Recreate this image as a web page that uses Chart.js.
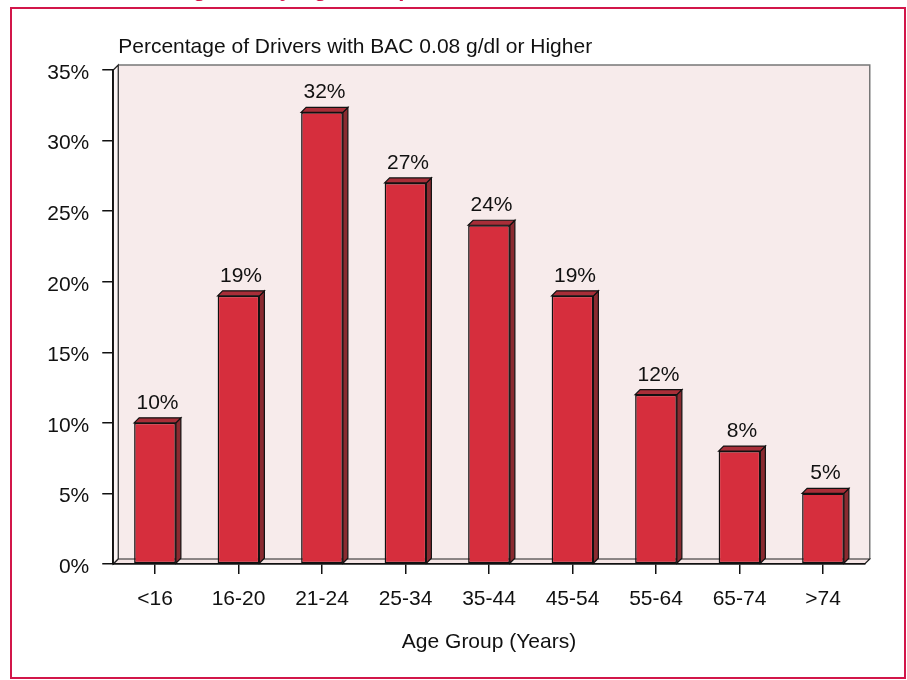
<!DOCTYPE html>
<html>
<head>
<meta charset="utf-8">
<script src="https://cdn.jsdelivr.net/npm/chart.js@4"></script>
<style>
  body { margin: 0; background: #fff; }
  #chart { display: block; }
</style>
</head>
<body>
<canvas id="chart" width="907" height="680"></canvas>
<script>
// ==== DATA ====
const ageGroups = ["<16", "16-20", "21-24", "25-34", "35-44", "45-54", "55-64", "65-74", ">74"];
const pctHighBac = [10, 19, 32, 27, 24, 19, 12, 8, 5];
const yTicks = [0, 5, 10, 15, 20, 25, 30, 35];

const chartTitle = "Percentage of Drivers with BAC 0.08 g/dl or Higher";
const xTitle = "Age Group (Years)";
const pageTitle = "Drinking Rate by Age Group, 2006"; // cut off at the top edge

// look
const FONT = "'Liberation Sans', Arial, Helvetica, sans-serif";
const DEPTH = 5;
const RED_FRONT = "#d62e3d";
const RED_TOP = "#a82e38";
const RED_SIDE = "#8a2a30";
const WALL = "#f7ebeb";
const FLOOR = "#f4e4e4";
const FRAME = "#d2164a";

Chart.defaults.font.family = FONT;
Chart.defaults.font.size = 21;
Chart.defaults.color = "#111";

// back wall, side wall, floor (drawn before the axes)
const backdrop = {
  id: "backdrop",
  beforeDraw(chart) {
    const ctx = chart.ctx;
    const a = chart.chartArea;
    ctx.save();
    ctx.fillStyle = "#fff";
    ctx.fillRect(0, 0, chart.width, chart.height);

    // back wall
    ctx.fillStyle = WALL;
    ctx.fillRect(a.left + DEPTH, a.top - DEPTH, a.right - a.left, a.bottom - a.top);
    ctx.strokeStyle = "#777";
    ctx.lineWidth = 1.5;
    ctx.beginPath();
    ctx.moveTo(a.left + DEPTH, a.top - DEPTH);
    ctx.lineTo(a.right + DEPTH, a.top - DEPTH);
    ctx.lineTo(a.right + DEPTH, a.bottom - DEPTH);
    ctx.stroke();

    // left wall
    ctx.fillStyle = "#fbf4f4";
    ctx.beginPath();
    ctx.moveTo(a.left, a.top);
    ctx.lineTo(a.left + DEPTH, a.top - DEPTH);
    ctx.lineTo(a.left + DEPTH, a.bottom - DEPTH);
    ctx.lineTo(a.left, a.bottom);
    ctx.closePath();
    ctx.fill();
    ctx.strokeStyle = "#222";
    ctx.lineWidth = 1.2;
    ctx.stroke();

    // floor
    ctx.fillStyle = FLOOR;
    ctx.beginPath();
    ctx.moveTo(a.left, a.bottom);
    ctx.lineTo(a.left + DEPTH, a.bottom - DEPTH);
    ctx.lineTo(a.right + DEPTH, a.bottom - DEPTH);
    ctx.lineTo(a.right, a.bottom);
    ctx.closePath();
    ctx.fill();
    ctx.stroke();

    // chart title
    ctx.fillStyle = "#111";
    ctx.font = "21px " + FONT;
    ctx.textAlign = "left";
    ctx.textBaseline = "alphabetic";
    ctx.fillText(chartTitle, a.left + DEPTH, 53);

    // page title, only its descenders show at the top edge
    ctx.fillStyle = FRAME;
    ctx.font = "bold 22px " + FONT;
    ctx.textBaseline = "alphabetic";
    ctx.fillText(pageTitle, 117, -4);

    // red frame
    ctx.strokeStyle = FRAME;
    ctx.lineWidth = 2;
    ctx.strokeRect(11, 8, 894, 670);
    ctx.restore();
  }
};

// 3D sides/tops of bars and value labels
const bars3d = {
  id: "bars3d",
  beforeDatasetsDraw(chart) {
    const ctx = chart.ctx;
    const meta = chart.getDatasetMeta(0);
    ctx.save();
    ctx.strokeStyle = "#111";
    ctx.lineWidth = 1.2;
    meta.data.forEach(bar => {
      const p = bar.getProps(["x", "y", "base", "width"], true);
      const l = p.x - p.width / 2;
      const r = p.x + p.width / 2;
      // side
      ctx.fillStyle = RED_SIDE;
      ctx.beginPath();
      ctx.moveTo(r, p.y);
      ctx.lineTo(r + DEPTH, p.y - DEPTH);
      ctx.lineTo(r + DEPTH, p.base - DEPTH);
      ctx.lineTo(r, p.base);
      ctx.closePath();
      ctx.fill();
      ctx.stroke();
      // top
      ctx.fillStyle = RED_TOP;
      ctx.beginPath();
      ctx.moveTo(l, p.y);
      ctx.lineTo(l + DEPTH, p.y - DEPTH);
      ctx.lineTo(r + DEPTH, p.y - DEPTH);
      ctx.lineTo(r, p.y);
      ctx.closePath();
      ctx.fill();
      ctx.stroke();
    });
    ctx.restore();
  },
  afterDatasetsDraw(chart) {
    const ctx = chart.ctx;
    const meta = chart.getDatasetMeta(0);
    ctx.save();
    ctx.fillStyle = "#111";
    ctx.font = "21px " + FONT;
    ctx.textAlign = "center";
    ctx.textBaseline = "alphabetic";
    meta.data.forEach((bar, i) => {
      ctx.fillText(pctHighBac[i] + "%", bar.x + DEPTH / 2, bar.y - 14);
    });
    ctx.restore();
  }
};

new Chart(document.getElementById("chart"), {
  type: "bar",
  data: {
    labels: ageGroups,
    datasets: [{
      data: pctHighBac,
      backgroundColor: RED_FRONT,
      borderColor: "#111",
      borderWidth: 1.5,
      borderSkipped: false,
      barPercentage: 0.5,
      categoryPercentage: 1.0
    }]
  },
  options: {
    responsive: false,
    animation: false,
    layout: { padding: { left: 0, top: 70, right: 42.25, bottom: 0 } },
    plugins: {
      legend: { display: false },
      tooltip: { enabled: false }
    },
    scales: {
      x: {
        grid: {
          offset: false,
          drawOnChartArea: false,
          tickLength: 10,
          color: "#111",
          lineWidth: 1.5
        },
        border: { display: true, color: "#111", width: 1.5 },
        ticks: { padding: 13, maxRotation: 0, color: "#111" },
        title: {
          display: true,
          text: xTitle,
          color: "#111",
          font: { size: 21 },
          padding: { top: 0, bottom: 25 }
        },
        afterFit(scale) { scale.height = 116; }
      },
      y: {
        min: 0,
        max: 35,
        grid: {
          drawOnChartArea: false,
          tickLength: 11,
          color: "#111",
          lineWidth: 1.5
        },
        border: { display: true, color: "#111", width: 1.8 },
        afterBuildTicks(scale) {
          scale.ticks = yTicks.map(v => ({ value: v }));
        },
        ticks: {
          padding: 13,
          labelOffset: 3,
          color: "#111",
          callback: v => v + "%"
        },
        afterFit(scale) { scale.width = 113.25; }
      }
    }
  },
  plugins: [backdrop, bars3d]
});
</script>
</body>
</html>
